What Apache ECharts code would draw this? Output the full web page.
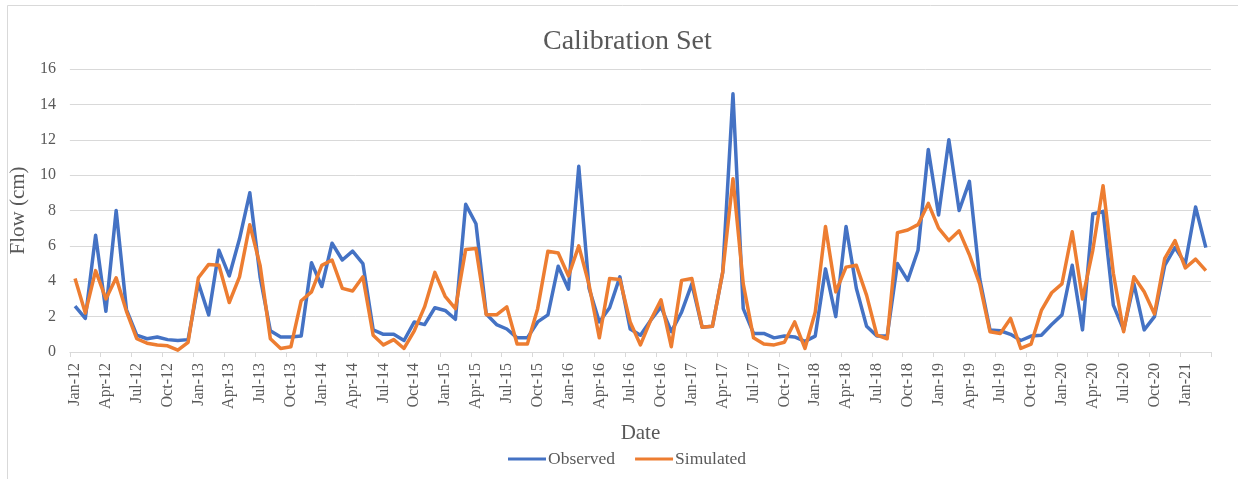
<!DOCTYPE html>
<html>
<head>
<meta charset="utf-8">
<style>
html,body{margin:0;padding:0;background:#fff;}
#chart{width:1238px;height:479px;}
</style>
<script src="https://cdn.jsdelivr.net/npm/echarts@6/dist/echarts.min.js"></script>
</head>
<body>
<div id="chart"></div>
<script>
const monthNames = ['Jan','Feb','Mar','Apr','May','Jun','Jul','Aug','Sep','Oct','Nov','Dec'];
const startYear = 12;
const monthCount = 111; // Jan-12 .. Mar-21
const categories = [];
for (let i = 0; i < monthCount; i++) {
  categories.push(monthNames[i % 12] + '-' + (startYear + Math.floor(i / 12)));
}

const observed = [
  2.6, 1.9, 6.6, 2.3, 8.0, 2.4, 0.95, 0.75, 0.85, 0.7, 0.65, 0.7,
  3.9, 2.1, 5.75, 4.3, 6.4, 9.0, 4.25, 1.2, 0.85, 0.85, 0.9, 5.05,
  3.7, 6.15, 5.2, 5.7, 5.0, 1.25, 1.0, 1.0, 0.65, 1.7, 1.55, 2.5,
  2.35, 1.85, 8.35, 7.25, 2.15, 1.55, 1.3, 0.8, 0.8, 1.7, 2.1, 4.85,
  3.55, 10.5, 3.6, 1.7, 2.5, 4.25, 1.3, 0.95, 1.8, 2.55, 1.15, 2.25,
  3.85, 1.4, 1.45, 4.5, 14.6, 2.45, 1.05, 1.05, 0.8, 0.9, 0.85, 0.6,
  0.9, 4.7, 2.0, 7.1, 3.6, 1.45, 0.9, 0.9, 5.0, 4.05, 5.75, 11.45,
  7.75, 12.0, 8.0, 9.65, 4.15, 1.25, 1.2, 1.0, 0.65, 0.9, 0.95, 1.55,
  2.1, 4.9, 1.25, 7.8, 7.95, 2.65, 1.25, 3.85, 1.25, 2.0, 4.9, 5.9,
  5.0, 8.2, 5.9
];
const simulated = [
  4.15, 2.2, 4.6, 3.0, 4.2, 2.3, 0.75, 0.5, 0.4, 0.35, 0.1, 0.55,
  4.2, 4.95, 4.9, 2.8, 4.25, 7.2, 4.9, 0.75, 0.2, 0.3, 2.9, 3.4,
  4.9, 5.2, 3.6, 3.45, 4.25, 0.95, 0.4, 0.7, 0.2, 1.2, 2.55, 4.5,
  3.15, 2.45, 5.8, 5.85, 2.1, 2.1, 2.55, 0.45, 0.45, 2.45, 5.7, 5.6,
  4.3, 6.0, 3.8, 0.8, 4.15, 4.1, 1.7, 0.4, 1.8, 2.95, 0.3, 4.05,
  4.15, 1.4, 1.45, 4.5, 9.8, 3.85, 0.8, 0.45, 0.4, 0.55, 1.7, 0.2,
  2.25, 7.1, 3.4, 4.8, 4.9, 3.2, 0.95, 0.75, 6.75, 6.9, 7.2, 8.4,
  7.0, 6.3, 6.85, 5.5, 3.85, 1.15, 1.05, 1.9, 0.2, 0.45, 2.35, 3.35,
  3.85, 6.8, 3.0, 5.75, 9.4, 4.45, 1.15, 4.25, 3.4, 2.15, 5.3, 6.3,
  4.75, 5.25, 4.6
];
const yTicks = { min: 0, max: 16, interval: 2 };

const textColor = '#595959';
const serif = '"Liberation Serif", "Times New Roman", serif';

const chart = echarts.init(document.getElementById('chart'), null, { renderer: 'canvas' });
chart.setOption({
  backgroundColor: '#ffffff',
  animation: false,
  title: {
    text: 'Calibration Set',
    left: 543,
    top: 28,
    padding: 0,
    textStyle: { fontFamily: serif, fontSize: 28, fontWeight: 'normal', color: textColor }
  },
  legend: {
    bottom: 6,
    left: 503,
    itemWidth: 38,
    itemHeight: 3,
    itemGap: 20,
    icon: 'rect',
    textStyle: { fontFamily: serif, fontSize: 17.5, color: textColor, padding: [0, 0, 0, -3] },
    data: ['Observed', 'Simulated']
  },
  grid: { left: 69, right: 27, top: 69, bottom: 127, containLabel: false },
  xAxis: {
    type: 'category',
    data: categories,
    boundaryGap: true,
    name: 'Date',
    nameLocation: 'middle',
    nameGap: 71,
    nameTextStyle: { fontFamily: serif, fontSize: 21, color: textColor },
    axisLine: { lineStyle: { color: '#d9d9d9', width: 1 } },
    axisTick: { show: true, interval: 2, length: 5, lineStyle: { color: '#d9d9d9' } },
    axisLabel: {
      interval: 2,
      rotate: 90,
      margin: 11,
      fontFamily: serif,
      fontSize: 16,
      color: textColor
    },
    splitLine: { show: false }
  },
  yAxis: {
    type: 'value',
    min: yTicks.min,
    max: yTicks.max,
    interval: yTicks.interval,
    name: 'Flow (cm)',
    nameLocation: 'middle',
    nameGap: 36,
    nameTextStyle: { fontFamily: serif, fontSize: 21, color: textColor },
    axisLine: { show: false },
    axisTick: { show: false },
    axisLabel: { margin: 14, fontFamily: serif, fontSize: 16, color: textColor },
    splitLine: { lineStyle: { color: '#d9d9d9', width: 1 } }
  },
  series: [
    {
      name: 'Observed',
      type: 'line',
      data: observed,
      symbol: 'none',
      lineStyle: { color: '#4472C4', width: 3.5, join: 'round' },
      itemStyle: { color: '#4472C4' }
    },
    {
      name: 'Simulated',
      type: 'line',
      data: simulated,
      symbol: 'none',
      lineStyle: { color: '#ED7D31', width: 3.5, join: 'round' },
      itemStyle: { color: '#ED7D31' }
    }
  ],
  graphic: [
    { type: 'line', shape: { x1: 7.5, y1: 5.5, x2: 1238, y2: 5.5 }, style: { stroke: '#d9d9d9', lineWidth: 1 } },
    { type: 'line', shape: { x1: 7.5, y1: 5.5, x2: 7.5, y2: 479 }, style: { stroke: '#d9d9d9', lineWidth: 1 } }
  ]
});
</script>
</body>
</html>
